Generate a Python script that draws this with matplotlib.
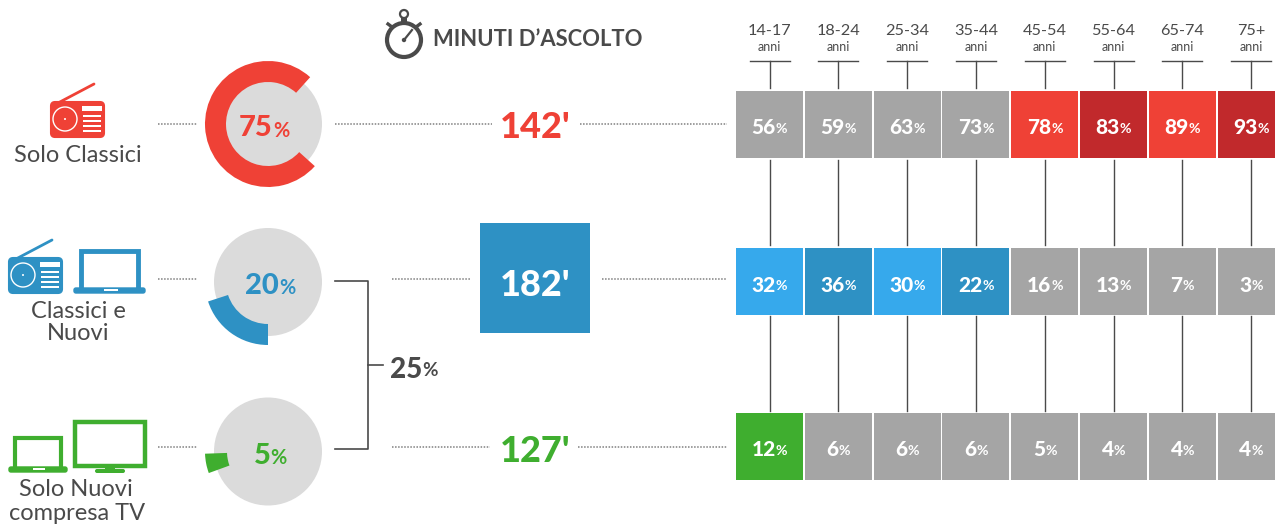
import numpy as np
import matplotlib
matplotlib.use('Agg')
import matplotlib.pyplot as plt
from matplotlib.patches import Circle, Wedge, Rectangle, FancyBboxPatch

plt.rcParams['font.family'] = ['Lato', 'DejaVu Sans']

# data
age_groups = ['14-17', '18-24', '25-34', '35-44', '45-54', '55-64', '65-74', '75+']
solo_classici = [56, 59, 63, 73, 78, 83, 89, 93]
classici_nuovi = [32, 36, 30, 22, 16, 13, 7, 3]
solo_nuovi = [12, 6, 6, 6, 5, 4, 4, 4]
shares = [75, 20, 5]
minutes = [142, 182, 127]
total_nuovi = 25

RED = '#EF4136'
DRED = '#C1292C'
BLUE = '#2E91C4'
LBLUE = '#36A9EC'
GREEN = '#3FAE2F'
GREY = '#A5A5A5'
LGREY = '#DBDBDB'
DARK = '#4A4A4A'

colors_classici = [GREY, GREY, GREY, GREY, RED, DRED, RED, DRED]
colors_misti = [LBLUE, BLUE, LBLUE, BLUE, GREY, GREY, GREY, GREY]
colors_nuovi = [GREEN, GREY, GREY, GREY, GREY, GREY, GREY, GREY]

fig = plt.figure(figsize=(12.75, 5.24), dpi=100)
ax = fig.add_axes([0, 0, 1, 1])
ax.set_xlim(0, 1275)
ax.set_ylim(524, 0)
ax.axis('off')


def pct(x, y, val, color, size, small=None):
    # number plus a smaller % sign, centred together on x
    small = small or size * 0.68
    a = ax.text(x, y, str(val), color=color, fontsize=size, fontweight='black', ha='left', va='center_baseline')
    b = ax.text(x, y, '%', color=color, fontsize=small, fontweight='bold', ha='left', va='center_baseline')
    r = fig.canvas.get_renderer()
    wa = a.get_window_extent(r).width
    wb = b.get_window_extent(r).width
    a.set_x(x - (wa + wb) / 2)
    b.set_x(x - (wa + wb) / 2 + wa)
    b.set_y(y + size * 0.12)


def dots(x0, x1, y):
    ax.plot([x0, x1], [y, y], color='#808080', lw=1.1, ls=(0, (1, 1)))


def radio(x, bottom, c):
    ax.plot([x + 8, x + 44], [bottom - 35, bottom - 54], color=c, lw=2, solid_capstyle='round')
    ax.add_patch(FancyBboxPatch((x + 1, bottom - 36), 53, 35, boxstyle='round,pad=0,rounding_size=4', fc=c, ec=c, lw=1.5))
    ax.add_patch(Circle((x + 15, bottom - 19), 12, fc='none', ec='white', lw=1))
    ax.add_patch(Circle((x + 15, bottom - 19), 1, fc='white', ec='none'))
    ax.add_patch(Rectangle((x + 32, bottom - 32), 20, 5, fc='white', ec='none'))
    for k in [-23, -18, -13, -8]:
        ax.add_patch(Rectangle((x + 33, bottom + k), 18, 1.8, fc='white', ec='none'))


def laptop(x, w, top, bottom, c, lw=3.5):
    ax.add_patch(Rectangle((x + w * 0.11, top), w * 0.78, bottom - top - 4, fc='none', ec=c, lw=lw))
    ax.add_patch(FancyBboxPatch((x + 1, bottom - 6), w - 2, 5, boxstyle='round,pad=0,rounding_size=2', fc=c, ec=c, lw=1))
    ax.add_patch(Rectangle((x + w * 0.42, bottom - 5), w * 0.2, 1.5, fc='white', ec='none'))


# share circles
centers = [124, 282, 451.5]
ax.add_patch(Circle((268, centers[0]), 54, fc=LGREY, ec='none'))
ax.add_patch(Circle((268, centers[1]), 54, fc=LGREY, ec='none'))
ax.add_patch(Circle((268, centers[2]), 54, fc=LGREY, ec='none'))
# y axis is inverted, so the wedge angles run clockwise on screen
a0 = -48
ax.add_patch(Wedge((268, centers[0]), 63, a0 - shares[0] * 3.6, a0, width=21, fc=RED, ec='none'))
a1 = 90
ax.add_patch(Wedge((268, centers[1]), 63, a1, a1 + shares[1] * 3.6, width=21, fc=BLUE, ec='none'))
a2 = 160
ax.add_patch(Wedge((268, centers[2]), 63, a2, a2 + shares[2] * 3.6, width=22, fc=GREEN, ec='none'))
pct(264, 126, shares[0], RED, 21)
pct(270, 283, shares[1], BLUE, 21)
pct(270, 453, shares[2], GREEN, 21)

# icons and row labels
radio(50, 138, RED)
radio(8, 294, BLUE)
laptop(73, 73, 251, 294, BLUE)
laptop(8, 60, 438, 473, GREEN, lw=3)
ax.add_patch(Rectangle((75, 422), 70, 44, fc='none', ec=GREEN, lw=3.2))
ax.add_patch(Rectangle((105, 466), 10, 4, fc=GREEN, ec='none'))
ax.add_patch(FancyBboxPatch((95, 469), 30, 4, boxstyle='round,pad=0,rounding_size=2', fc=GREEN, ec='none'))

for x, y, s in [(78, 155, 'Solo Classici'), (78, 311, 'Classici e'), (78, 334, 'Nuovi'),
                (76, 490, 'Solo Nuovi'), (77, 513, 'compresa TV')]:
    ax.text(x, y, s, color=DARK, fontsize=17, ha='center', va='center')

# dotted leaders
for y in [124, 279, 447]:
    dots(158, 197, y)
dots(335, 492, 124)
dots(580, 727, 124)
dots(392, 470, 279)
dots(602, 727, 279)
dots(392, 490, 447)
dots(578, 727, 447)

# bracket
ax.plot([335, 368, 368, 335], [281, 281, 449, 449], color=DARK, lw=1.2)
ax.plot([368, 383], [365, 365], color=DARK, lw=1.2)
pct(414, 367, total_nuovi, DARK, 20)

# minutes
ax.add_patch(Rectangle((480, 223), 110, 110, fc=BLUE, ec='none'))
ax.text(535, 285, f"{minutes[1]}'", color='white', fontsize=26, fontweight='black', ha='center', va='center')
ax.text(535, 128, f"{minutes[0]}'", color=RED, fontsize=26, fontweight='black', ha='center', va='center')
ax.text(535, 451, f"{minutes[2]}'", color=GREEN, fontsize=26, fontweight='black', ha='center', va='center')

# title and stopwatch
ax.text(433, 40, "MINUTI D’ASCOLTO", color=DARK, fontsize=15.8, fontweight='bold', ha='left', va='center')
ax.add_patch(Circle((404, 40), 17, fc='white', ec=DARK, lw=3))
ax.add_patch(Circle((404, 14), 4, fc='none', ec=DARK, lw=1.6))
ax.add_patch(Rectangle((401, 17), 6, 6, fc=DARK, ec='none'))
ax.plot([388, 392], [24, 27], color=DARK, lw=2.4)
ax.plot([420, 416], [24, 27], color=DARK, lw=2.4)
ax.plot([404, 412], [40, 30], color=DARK, lw=1.6)
ax.add_patch(Circle((404, 40), 2.2, fc=DARK, ec='none'))

# age grid
col_x = 769.5 + 68.8 * np.arange(len(age_groups))
rows = [(91, 67, solo_classici, colors_classici),
        (248, 67, classici_nuovi, colors_misti),
        (413, 67, solo_nuovi, colors_nuovi)]
for i, x in enumerate(col_x):
    ax.plot([x, x], [61, 88], color=DARK, lw=1)
    ax.plot([x, x], [160, 245], color=DARK, lw=1)
    ax.plot([x, x], [316, 411], color=DARK, lw=1)
    ax.plot([x - 20, x + 20], [61, 61], color=DARK, lw=1)
    ax.text(x, 31, age_groups[i], color=DARK, fontsize=11.7, ha='center', va='center')
    ax.text(x, 47, 'anni', color=DARK, fontsize=9, ha='center', va='center')
    for top, h, vals, cols in rows:
        ax.add_patch(Rectangle((x - 33.5, top), h, h, fc=cols[i], ec='none'))
        pct(x, top + h / 2 + 2, vals[i], 'white', 15)

fig.savefig('out.png', dpi=100)
